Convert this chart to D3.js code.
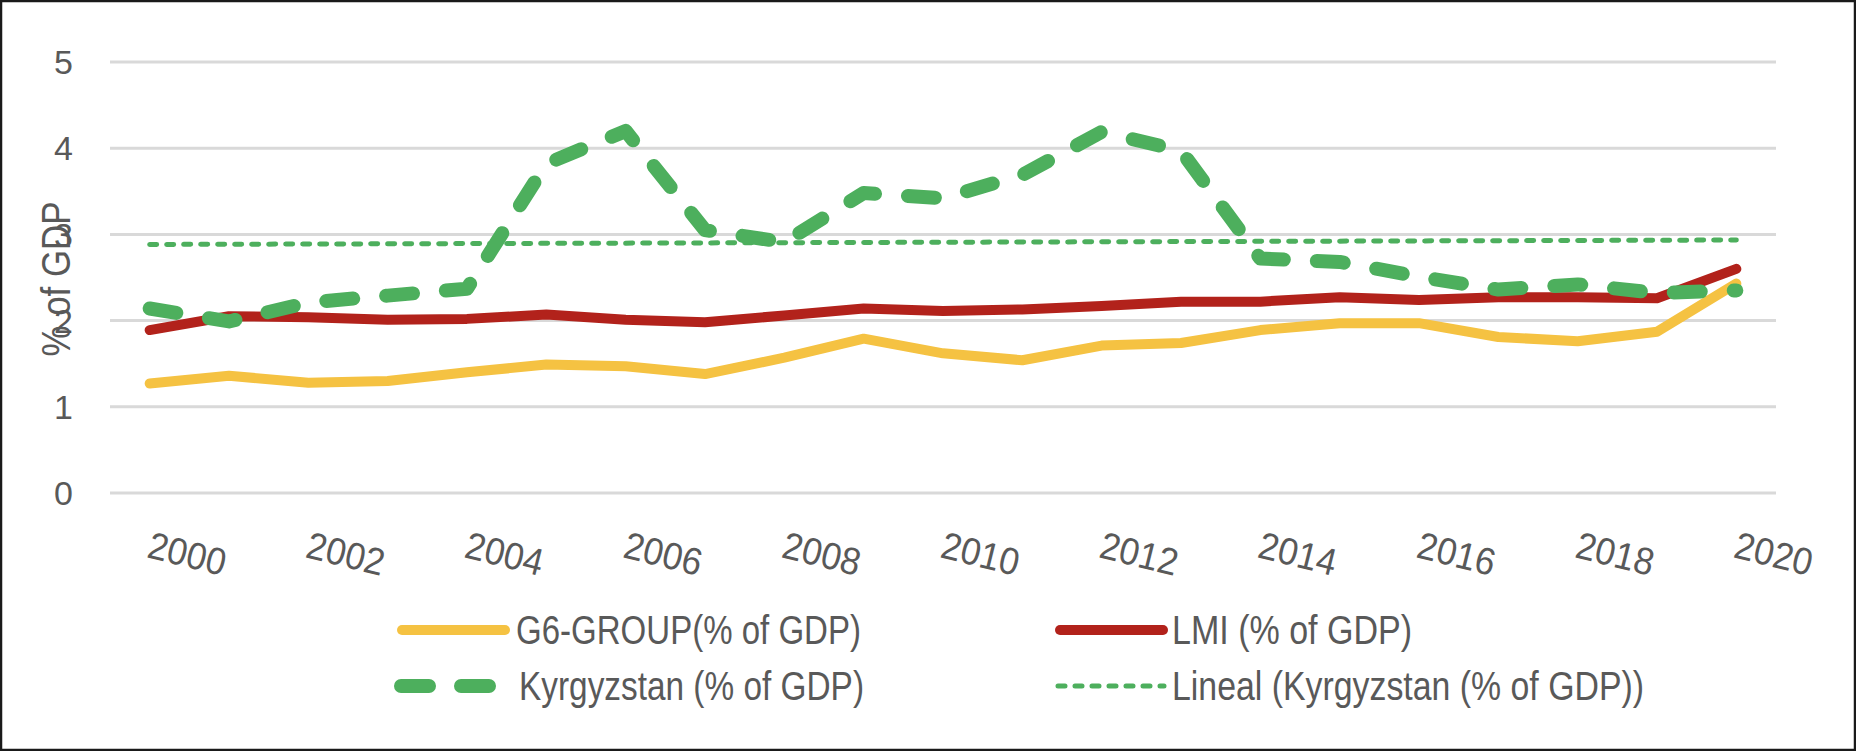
<!DOCTYPE html>
<html>
<head>
<meta charset="utf-8">
<script src="https://cdn.jsdelivr.net/npm/d3@7"></script>
<style>
  html, body { margin: 0; padding: 0; background: #fff; }
  svg { display: block; }
  text { font-family: "Liberation Sans Narrow", "Liberation Sans", "Arial Narrow", sans-serif; fill: #595959; }
</style>
</head>
<body>
<svg id="chart" width="1856" height="751"></svg>
<script>
// ---------- data ----------
const years = [2000,2001,2002,2003,2004,2005,2006,2007,2008,2009,2010,2011,2012,2013,2014,2015,2016,2017,2018,2019,2020];
const g6Group = [1.27,1.36,1.28,1.30,1.40,1.49,1.47,1.38,1.57,1.79,1.62,1.54,1.71,1.74,1.89,1.97,1.97,1.81,1.76,1.87,2.43];
const lmi = [1.89,2.05,2.04,2.01,2.02,2.07,2.01,1.98,2.06,2.14,2.11,2.13,2.17,2.22,2.22,2.27,2.24,2.27,2.27,2.26,2.60];
const kyrgyzstan = [2.14,1.99,2.21,2.29,2.37,3.82,4.20,3.05,2.91,3.48,3.42,3.69,4.19,3.97,2.72,2.68,2.51,2.36,2.42,2.32,2.35];
const yTicks = [0,1,2,3,4,5];
const xTickLabels = [2000,2002,2004,2006,2008,2010,2012,2014,2016,2018,2020];
const seriesNames = ["G6-GROUP(% of GDP)", "LMI (% of GDP)", "Kyrgyzstan (% of GDP)", "Lineal (Kyrgyzstan (% of GDP))"];
const yTitle = "% of GDP";

// ---------- layout / style ----------
const W = 1856, H = 751;
const plot = { left: 110, right: 1776, top: 62, bottom: 493 };
const colors = { g6: "#F5C242", lmi: "#B2221B", kyr: "#4DAF5D", grid: "#D9D9D9" };

const svg = d3.select("#chart");
svg.append("rect").attr("x", 0).attr("y", 0).attr("width", W).attr("height", H).attr("fill", "#fff");

const x = d3.scalePoint().domain(years).range([plot.left, plot.right]).padding(0.5);
const y = d3.scaleLinear().domain([0, 5]).range([plot.bottom, plot.top]);

// gridlines
svg.append("g").selectAll("line").data(yTicks).join("line")
  .attr("x1", plot.left).attr("x2", plot.right)
  .attr("y1", d => y(d)).attr("y2", d => y(d))
  .attr("stroke", colors.grid).attr("stroke-width", 3);

// y tick labels
svg.append("g").selectAll("text").data(yTicks).join("text")
  .attr("x", 73).attr("y", d => y(d)).attr("dy", "0.36em")
  .attr("text-anchor", "end").attr("font-size", 34)
  .text(d => d);

// y title
svg.append("text")
  .attr("transform", "translate(70,279) rotate(-90)")
  .attr("text-anchor", "middle").attr("font-size", 40)
  .attr("textLength", 155).attr("lengthAdjust", "spacingAndGlyphs")
  .text(yTitle);

// x tick labels (rotated)
svg.append("g").selectAll("text").data(xTickLabels).join("text")
  .attr("transform", d => `translate(${x(d) - 4},557) rotate(14)`)
  .attr("text-anchor", "start").attr("font-size", 38)
  .attr("textLength", 79).attr("lengthAdjust", "spacingAndGlyphs")
  .text(d => d);

// lines
const lineGen = vals => d3.line().x((d, i) => x(years[i])).y(d => y(d))(vals);

svg.append("path").attr("d", lineGen(g6Group))
  .attr("fill", "none").attr("stroke", colors.g6).attr("stroke-width", 10)
  .attr("stroke-linejoin", "round").attr("stroke-linecap", "round");

svg.append("path").attr("d", lineGen(lmi))
  .attr("fill", "none").attr("stroke", colors.lmi).attr("stroke-width", 10)
  .attr("stroke-linejoin", "round").attr("stroke-linecap", "round");

// linear trend line (least squares on Kyrgyzstan series)
const idx = years.map((d, i) => i);
const mx = d3.mean(idx), my = d3.mean(kyrgyzstan);
const slope = d3.sum(idx, i => (i - mx) * (kyrgyzstan[i] - my)) / d3.sum(idx, i => (i - mx) * (i - mx));
const intercept = my - slope * mx;
const trend = idx.map(i => intercept + slope * i);

svg.append("path").attr("d", lineGen(trend))
  .attr("fill", "none").attr("stroke", colors.kyr).attr("stroke-width", 5)
  .attr("stroke-dasharray", "7 10").attr("stroke-linecap", "round");

svg.append("path").attr("d", lineGen(kyrgyzstan))
  .attr("fill", "none").attr("stroke", colors.kyr).attr("stroke-width", 14)
  .attr("stroke-dasharray", "27 33").attr("stroke-linecap", "round")
  .attr("stroke-linejoin", "round");

// legend
const legend = [
  { name: seriesNames[0], x1: 402, x2: 505, ty: 630, tx: 516, tl: 345, stroke: colors.g6, w: 10, dash: null },
  { name: seriesNames[1], x1: 1060, x2: 1163, ty: 630, tx: 1172, tl: 240, stroke: colors.lmi, w: 10, dash: null },
  { name: seriesNames[2], x1: 401, x2: 489, ty: 686, tx: 519, tl: 345, stroke: colors.kyr, w: 14, dash: "28 32" },
  { name: seriesNames[3], x1: 1058, x2: 1164, ty: 686, tx: 1172, tl: 472, stroke: colors.kyr, w: 5, dash: "7 10" }
];
const lg = svg.append("g");
legend.forEach(d => {
  const l = lg.append("line").attr("x1", d.x1).attr("x2", d.x2).attr("y1", d.ty).attr("y2", d.ty)
    .attr("stroke", d.stroke).attr("stroke-width", d.w).attr("stroke-linecap", "round");
  if (d.dash) l.attr("stroke-dasharray", d.dash);
  lg.append("text").attr("x", d.tx).attr("y", d.ty).attr("dy", "0.36em")
    .attr("font-size", 40).attr("textLength", d.tl).attr("lengthAdjust", "spacingAndGlyphs")
    .text(d.name);
});

// outer border
svg.append("rect").attr("x", 1).attr("y", 1).attr("width", W - 2).attr("height", H - 2)
  .attr("fill", "none").attr("stroke", "#1a1a1a").attr("stroke-width", 2.5);
</script>
</body>
</html>
